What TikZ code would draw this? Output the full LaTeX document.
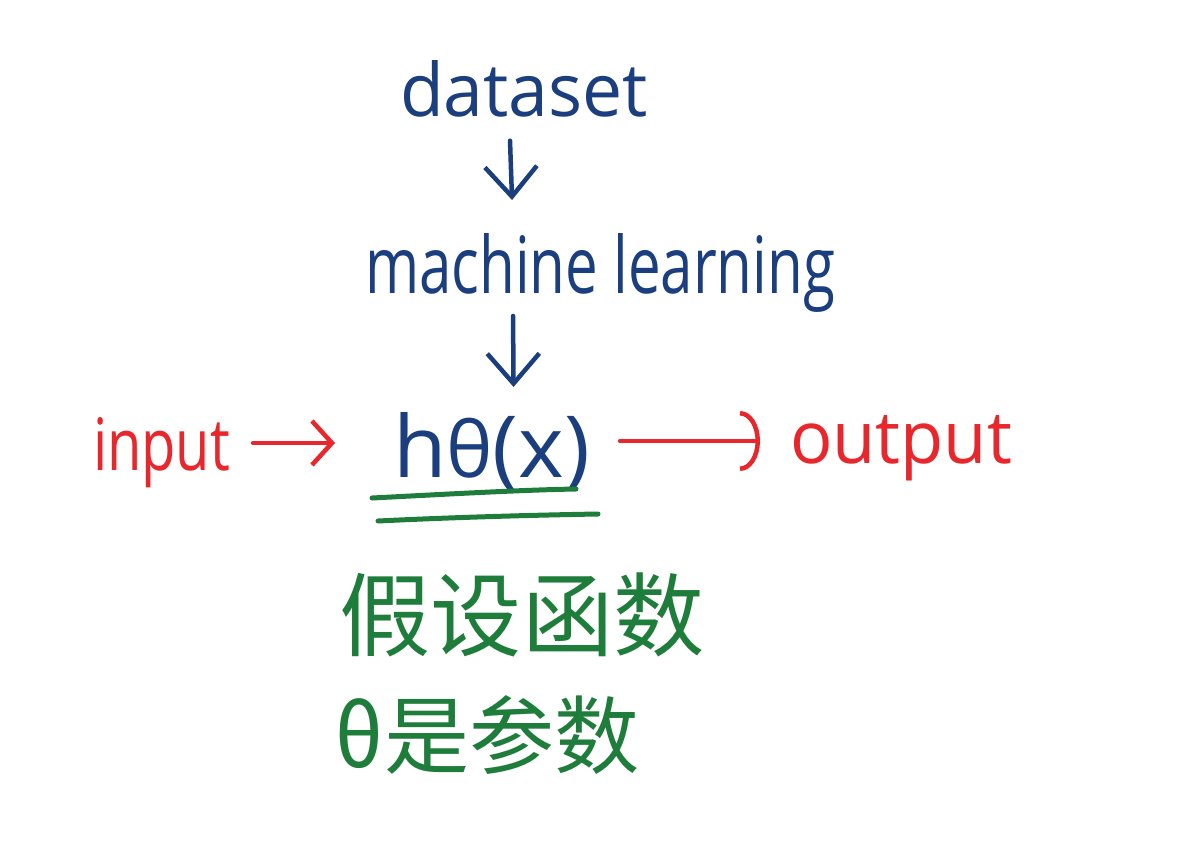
\documentclass[tikz,border=0pt]{standalone}
\usepackage{fontspec}
\setmainfont{Open Sans}
\newfontfamily\cjk{Noto Sans CJK SC}
\usetikzlibrary{arrows.meta}
\definecolor{hblue}{HTML}{1B3F7E}
\definecolor{hred}{HTML}{E8262C}
\definecolor{hgreen}{HTML}{1F7D3C}
\newcommand{\fitwh}[3]{\resizebox{#1}{#2}{#3}}
\newcommand{\fitw}[2]{\resizebox{#1}{!}{#2}}
\begin{document}
\begin{tikzpicture}[x=1pt,y=-1pt,
  txt/.style={inner sep=0pt, outer sep=0pt},
  barrow/.style={draw=hblue, line width=4.5pt, line cap=round, line join=round,
    -{Straight Barb[length=30pt,width=52pt]}},
  rarrow/.style={draw=hred, line width=4.5pt, line cap=round, line join=round,
    -{Straight Barb[length=20pt,width=44pt]}},
  rarcarrow/.style={draw=hred, line width=4.5pt, line cap=round, line join=round,
    -{Arc Barb[length=20pt,width=60pt]}},
  uline/.style={draw=hgreen, line width=5pt, line cap=round}]
\useasboundingbox[fill=white] (0,0) rectangle (1182,840);
\node[txt, anchor=base west, text=hblue] (dataset) at (400,117) {\fitwh{248pt}{56pt}{dataset}};
\node[txt, anchor=base west, text=hblue] (ml) at (365,293) {\fitwh{470pt}{60pt}{machine learning}};
\node[txt, anchor=base west, text=hblue] (h) at (393,477) {\fitwh{197pt}{65pt}{h{\small θ}(x)}};
\node[txt, anchor=base west, text=hred] (input) at (93,470) {\fitwh{137pt}{53pt}{input}};
\node[txt, anchor=base west, text=hred] (output) at (790,463) {\fitwh{222pt}{48pt}{output}};
\node[txt, text=hgreen] (hyp) at (522,615) {\fitw{365pt}{\cjk 假设函数}};
\node[txt, text=hgreen] (param) at (487,735) {\fitw{305pt}{\cjk θ是参数}};
\draw[barrow] ([shift={(-14,23)}]dataset.south) -- ([shift={(-88,-33)}]ml.north);
\draw[barrow] ([shift={(-87,4)}]ml.south) -- ([shift={(22,-25)}]h.north);
\draw[rarrow] ([shift={(23,-27)}]input.base east) -- ([shift={(-58,-34)}]h.base west);
\draw[rarcarrow] ([shift={(30,-36)}]h.base east) -- ([shift={(-30,-22)}]output.base west);
\draw[uline] (372,498) .. controls (450,494) and (520,490) .. (576,489);
\draw[uline] (378,521) .. controls (460,517) and (540,515) .. (598,514);
\end{tikzpicture}
\end{document}
